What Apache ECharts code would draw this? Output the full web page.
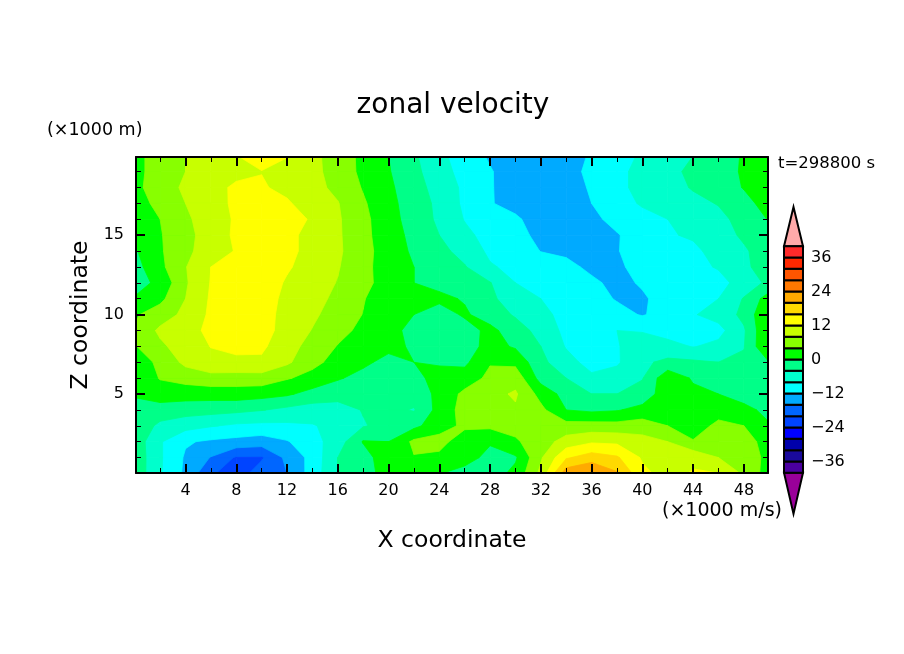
<!DOCTYPE html>
<html>
<head>
    <meta charset="utf-8" />
    <title>zonal velocity</title>
    <script src="https://cdn.jsdelivr.net/npm/echarts@6/dist/echarts.min.js"></script>
    <style>
        body { margin: 0; background: #fff; }
        #chart1 { width: 904px; height: 654px; }
    </style>
</head>
<body>
    <div id="chart1"></div>
    <script type="text/javascript">
        // grid nodes, unit 1000 m
        var xNodes = [0, 2, 4, 6, 8, 10, 12, 14, 16, 18, 20, 22, 24, 26, 28, 30, 32, 34, 36, 38, 40, 42, 44, 46, 48, 50];
        var zNodes = [20, 19, 18, 17, 16, 15, 14, 13, 12, 11, 10, 9, 8, 7, 6, 5, 4, 3, 2, 1, 0];
        // zonal velocity, one row per z node, top row first
        var u20 = [3, 5.5, 8, 10, 11.9, 13.5, 12.1, 9, 6.2, 3, 0, -3.4, -7, -10, -12.5, -14, -14.5, -14, -11.5, -9.5, -7.5, -6, -4, -2.5, 0.5, 2];
        var u19 = [3, 5.5, 8, 10, 11.2, 11.9, 11.3, 9, 6.5, 3, 0.3, -3, -6.3, -9.5, -11.7, -14, -14.5, -14, -10.7, -9, -6.8, -5, -3.2, -1.8, 0.5, 2.7];
        var u18 = [3, 6, 8.7, 11, 12.5, 12.4, 11, 9.3, 7, 3.7, 0.8, -2.5, -5.5, -8.8, -11.7, -13.8, -14.5, -14, -11.5, -9, -6.8, -5.4, -3.7, -2, 0.2, 2.7];
        var u17 = [2, 5.3, 8, 10.3, 12.8, 14, 12.5, 10, 8.2, 4.5, 1.2, -2, -4.9, -8.8, -11.8, -13, -14, -13.5, -12, -9.8, -7.5, -6.3, -5, -3.8, -1.2, 1.5];
        var u16 = [0.8, 4, 7.3, 10, 12.5, 14, 13.5, 11.6, 8.5, 5, 1.6, -1.8, -4.7, -8.2, -10, -11.5, -13.5, -14, -13, -10.7, -9.5, -8, -6.5, -5, -2.7, 0.3];
        var u15 = [0.5, 3.7, 6.8, 9.8, 12.7, 14, 12.8, 11, 8.6, 5, 2, -1.2, -4, -7, -9.5, -11, -12.8, -14, -13.7, -12.3, -10, -8.3, -7.6, -5.6, -3.4, -1];
        var u14 = [-0.5, 3.5, 7.2, 9.7, 12.3, 14, 12.8, 11, 8.7, 5.2, 2.3, -0.7, -2.8, -5.5, -8.8, -10, -12.1, -12.7, -14, -12.2, -10.2, -9.5, -8.7, -6.8, -4.5, -2];
        var u13 = [-1.5, 3, 7.8, 12, 13.5, 14, 12.4, 10.5, 8.3, 5, 2.3, 0, -1.5, -3.7, -7.6, -9, -10, -11, -12.8, -12.7, -10.6, -9.7, -9, -7.7, -5.2, -1];
        var u12 = [-1.5, 0.9, 7.5, 12.2, 13.5, 14, 11.6, 10, 7.8, 5, 2.5, 0, -1, -1.5, -3.8, -8, -9.5, -10.3, -11.3, -13, -11.6, -10.3, -10, -9.2, -6.5, -3];
        var u11 = [0.3, 3, 8, 12.5, 14, 13.3, 11.3, 9.5, 7, 4.2, 2, 0.8, 0.8, -0.3, -3.5, -5.3, -8, -9.5, -10.5, -12.3, -12.5, -10.5, -9.5, -8, -3.7, 2];
        var u10 = [3.5, 6, 9, 12.7, 14.5, 13.2, 11, 8.8, 6, 3.9, 2, 0, -1.7, 0.5, -1.7, -4.5, -7.3, -8.8, -9.7, -10.7, -12.3, -10.5, -8.3, -6.5, -3, 4.2];
        var u9 = [4.5, 8.8, 10.7, 12.8, 14.2, 13.2, 10.8, 7.8, 5.3, 3, 1.3, -1.2, -2.4, -1.6, 1, -2, -5.5, -9, -10, -8, -8.3, -9.5, -10, -9.3, -4.5, 4.5];
        var u8 = [3.7, 7.2, 10, 12.1, 12.8, 12.7, 9.5, 6.6, 3.8, 2, 1, -0.5, -2.8, -2, 1.5, -0.5, -4, -8.3, -9.5, -8.3, -5.8, -6.8, -8.2, -7, -4.2, 4.5];
        var u7 = [2, 4.8, 9, 11, 11.3, 11.3, 8.7, 5, 2.7, 0.8, -1.2, 0, -0.3, -0.8, 3.7, 3, -3, -6.5, -9.5, -8.5, -4.8, -3, -3.3, -4, -3.3, 0];
        var u6 = [1, 4.2, 5.5, 6.5, 6.2, 6.3, 4.3, 2.8, 0.4, -1.3, -2, -0.8, 1, 1.8, 5, 6.5, -1.5, -4, -7.2, -6.4, -4.2, 3, -0.5, -2, -2.5, -2.5];
        var u5 = [0.3, 2.3, 1.7, 1.7, 2, 1.5, 0.6, -1.5, -2.6, -3, -2.6, -2.3, 1, 5, 6.8, 8.5, 2.6, -1.5, -4, -4, -2.5, 2.5, 1, 0, -1.5, -2.5];
        var u4 = [-1, -2, -2.2, -2.5, -3, -3.8, -5, -5.8, -5.5, -3.8, -3, -4.3, 1.5, 5.5, 7, 7.5, 5, 0, -0.8, -0.3, 1.3, 2.5, 2.6, 2.3, 1, -1];
        var u3 = [-1.5, -4.8, -6.5, -7.7, -8.7, -9, -8.8, -8.3, -6.7, -4.3, -2.7, -1, 2.3, 4.8, 4.8, 5.2, 6, 5.5, 5.6, 5.4, 6, 4, 2, 5, 4, 0.3];
        var u2 = [-1.5, -7.6, -11.6, -12.6, -13.2, -14, -12.3, -9.5, -6, 0.3, 0, 4.8, 5.5, 1.5, 0.5, 3.5, 6, 9.7, 11.5, 11.2, 9.5, 8, 4.3, 4, 6, 2];
        var u1 = [-1.2, -7.5, -12.5, -16.2, -20.5, -20.5, -15, -10.7, -4, -2, 3, 3.8, 3, 2, -1.5, -0.5, 7.5, 15.5, 18, 16.5, 11.5, 10, 11, 8, 6, 3];
        var u0 = [-1.2, -7.6, -12.8, -19.5, -22, -18, -16, -10.3, -4, -1, 1, 2.5, 0.2, -1.8, -1.8, 1, 9, 22.5, 24.5, 20.5, 13, 10.5, 12.4, 12.1, 7.3, 2];
        var uRows = [u20, u19, u18, u17, u16, u15, u14, u13, u12, u11, u10, u9, u8, u7, u6, u5, u4, u3, u2, u1, u0];

        // contour bands, lower bound of each, lowest first
        var bandLevels = [-40, -36, -32, -28, -24, -20, -16, -12, -8, -4, 0, 4, 8, 12, 16, 20, 24, 28, 32, 36];
        var bandColors = ['#4b00a0', '#1a0a9c', '#0000aa', '#0000ff', '#0044ff', '#0066ff', '#00aaff', '#00ffff', '#00ffcc', '#00ff88',
            '#00ff00', '#88ff00', '#c8ff00', '#ffff00', '#ffd900', '#ffaa00', '#ff7800', '#ff5500', '#ff2800', '#ff2a2a'];
        var topTip = [40, 53.8];
        var bottomTip = [-40, -54.5];
        var topTipColor = '#ffaaaa';
        var bottomTipColor = '#990099';

        var xMajor = [4, 8, 12, 16, 20, 24, 28, 32, 36, 40, 44, 48];
        var xMinor = [2, 6, 10, 14, 18, 22, 26, 30, 34, 38, 42, 46];
        var zMajor = [5, 10, 15];
        var zMinor = [1, 2, 3, 4, 6, 7, 8, 9, 11, 12, 13, 14, 16, 17, 18, 19];

        var fontName = '"DejaVu Sans"';

        // one item per grid cell: x, z of lower left corner and the 4 corner values
        var cellData = [];
        for (var r = 0; r < zNodes.length - 1; r++) {
            for (var c = 0; c < xNodes.length - 1; c++) {
                cellData.push([xNodes[c], zNodes[r + 1], xNodes[c + 1], zNodes[r],
                    uRows[r + 1][c], uRows[r + 1][c + 1], uRows[r][c + 1], uRows[r][c]]);
            }
        }

        // keep the part of a polygon where value >= level
        function clipAbove(poly, level) {
            var out = [];
            for (var i = 0; i < poly.length; i++) {
                var a = poly[i];
                var b = poly[(i + 1) % poly.length];
                if (a[2] >= level) out.push(a);
                if ((a[2] >= level) !== (b[2] >= level)) {
                    var t = (level - a[2]) / (b[2] - a[2]);
                    out.push([a[0] + t * (b[0] - a[0]), a[1] + t * (b[1] - a[1]), level]);
                }
            }
            return out;
        }

        function bandIndex(v) {
            var k = 0;
            for (var i = 0; i < bandLevels.length; i++) {
                if (v >= bandLevels[i]) k = i;
            }
            return k;
        }

        function renderCell(params, api) {
            var p00 = api.coord([api.value(0), api.value(1)]);
            var p11 = api.coord([api.value(2), api.value(3)]);
            var v = [api.value(4), api.value(5), api.value(6), api.value(7)];
            var poly = [
                [p00[0], p00[1], v[0]],
                [p11[0], p00[1], v[1]],
                [p11[0], p11[1], v[2]],
                [p00[0], p11[1], v[3]]
            ];
            var lo = Math.min(v[0], v[1], v[2], v[3]);
            var hi = Math.max(v[0], v[1], v[2], v[3]);
            var first = bandIndex(lo);
            var last = bandIndex(hi);
            var children = [];
            for (var k = first; k <= last; k++) {
                var part = k === first ? poly : clipAbove(poly, bandLevels[k]);
                if (part.length < 3) continue;
                // z2 by band, so the higher bands are painted last over the whole field
                children.push({
                    type: 'polygon',
                    z2: k,
                    shape: { points: part.map(function (q) { return [q[0], q[1]]; }) },
                    style: { fill: bandColors[k], stroke: bandColors[k], lineWidth: 0.8 }
                });
            }
            return { type: 'group', children: children };
        }

        function renderBar(params, api) {
            var a = api.coord([0, api.value(0)]);
            var b = api.coord([1, api.value(1)]);
            return {
                type: 'rect',
                shape: { x: a[0], y: b[1], width: b[0] - a[0], height: a[1] - b[1] },
                style: { fill: bandColors[params.dataIndex], stroke: '#000', lineWidth: 2 }
            };
        }

        function renderTip(params, api) {
            var a = api.coord([0, api.value(0)]);
            var b = api.coord([1, api.value(0)]);
            var t = api.coord([0.5, api.value(1)]);
            return {
                type: 'polygon',
                shape: { points: [a, b, t] },
                style: { fill: params.dataIndex === 0 ? topTipColor : bottomTipColor, stroke: '#000', lineWidth: 2 }
            };
        }

        // ticks on all four sides, long and short ones need their own axis
        function frameAxis(pos, lo, hi, values, len, width, line, labels, name) {
            var ax = {
                type: 'value',
                gridIndex: 0,
                position: pos,
                min: lo,
                max: hi,
                z: 10,
                splitLine: { show: false },
                axisLine: { show: line, onZero: false, lineStyle: { color: '#000', width: 2 } },
                axisTick: { show: true, inside: true, length: len, customValues: values, lineStyle: { color: '#000', width: width } },
                axisLabel: { show: false }
            };
            if (labels) {
                ax.axisLabel = { show: true, customValues: values, margin: 12, padding: [3, 0, 0, 0], color: '#000', fontFamily: fontName, fontSize: 16 };
            }
            if (name) {
                ax.name = name;
                ax.nameLocation = 'middle';
                ax.nameTextStyle = { color: '#000', fontFamily: fontName, fontSize: 23.5 };
            }
            return ax;
        }

        var xBottom = frameAxis('bottom', 0.1, 49.9, xMajor, 9, 2, true, true, 'X coordinate');
        xBottom.nameGap = 56;
        xBottom.axisLabel.margin = 10;
        xBottom.axisLabel.padding = 0;
        var zLeft = frameAxis('left', 0.03, 19.92, zMajor, 9, 2, true, true, 'Z coordinate');
        zLeft.nameGap = 41;

        var myChart1 = echarts.init(document.getElementById('chart1'));
        var option = {
            backgroundColor: '#fff',
            animation: false,
            title: {
                text: 'zonal velocity',
                left: 448,
                top: 87,
                textAlign: 'center',
                textStyle: { color: '#000', fontFamily: fontName, fontWeight: 'normal', fontSize: 28 }
            },
            grid: [
                { left: 136, top: 157, width: 632, height: 316 },
                { left: 784, top: 189.5, width: 19, height: 340 }
            ],
            xAxis: [
                xBottom,
                frameAxis('bottom', 0.1, 49.9, xMinor, 5, 1, false, false),
                frameAxis('top', 0.1, 49.9, xMajor, 9, 2, true, false),
                frameAxis('top', 0.1, 49.9, xMinor, 5, 1, false, false),
                { type: 'value', gridIndex: 1, min: 0, max: 1, show: false }
            ],
            yAxis: [
                zLeft,
                frameAxis('left', 0.03, 19.92, zMinor, 5, 1, false, false),
                frameAxis('right', 0.03, 19.92, zMajor, 9, 2, true, false),
                frameAxis('right', 0.03, 19.92, zMinor, 5, 1, false, false),
                {
                    type: 'value',
                    gridIndex: 1,
                    position: 'right',
                    min: -60,
                    max: 60,
                    interval: 12,
                    splitLine: { show: false },
                    axisLine: { show: false },
                    axisTick: { show: false },
                    axisLabel: {
                        margin: 8,
                        padding: [4, 0, 0, 0],
                        color: '#000',
                        fontFamily: fontName,
                        fontSize: 16,
                        formatter: function (v) {
                            if (Math.abs(v) > 40) return '';
                            return String(v).replace('-', '\u2212');
                        }
                    }
                }
            ],
            series: [
                {
                    type: 'custom',
                    name: 'zonal velocity',
                    xAxisIndex: 0,
                    yAxisIndex: 0,
                    clip: true,
                    silent: true,
                    z: 1,
                    renderItem: renderCell,
                    encode: { x: [0, 2], y: [1, 3] },
                    data: cellData
                },
                {
                    type: 'custom',
                    xAxisIndex: 4,
                    yAxisIndex: 4,
                    silent: true,
                    z: 3,
                    renderItem: renderBar,
                    encode: { y: [0, 1] },
                    data: bandLevels.map(function (lv) { return [lv, lv + 4]; })
                },
                {
                    type: 'custom',
                    xAxisIndex: 4,
                    yAxisIndex: 4,
                    silent: true,
                    z: 2,
                    renderItem: renderTip,
                    encode: { y: [0, 1] },
                    data: [topTip, bottomTip]
                }
            ],
            graphic: [
                { type: 'text', left: 47, top: 121, z: 10, style: { text: '(\u00d71000 m)', fill: '#000', font: '17.5px ' + fontName } },
                { type: 'text', left: 662, top: 502, z: 10, style: { text: '(\u00d71000 m/s)', fill: '#000', font: '19px ' + fontName } },
                { type: 'text', left: 778, top: 155, z: 10, style: { text: 't=298800 s', fill: '#000', font: '16.5px ' + fontName } }
            ]
        };
        myChart1.setOption(option);
    </script>
</body>
</html>
